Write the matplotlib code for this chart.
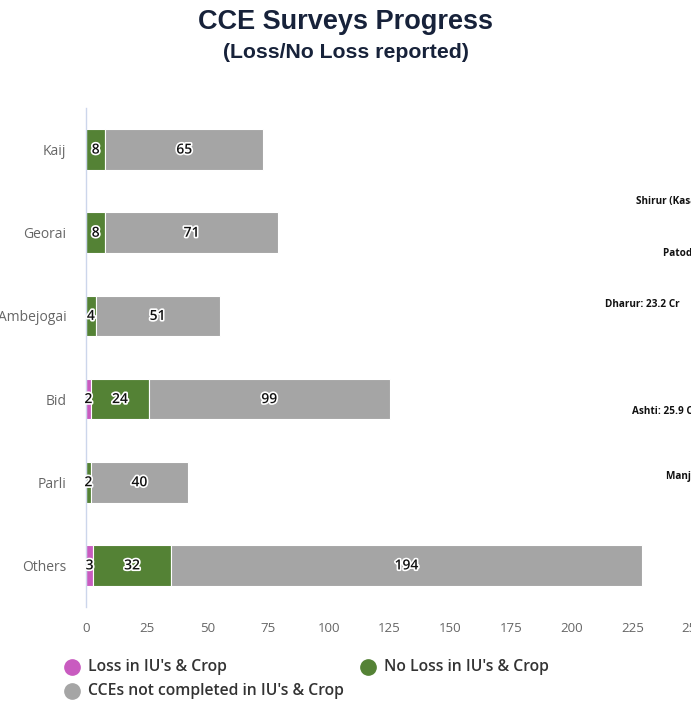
import matplotlib.pyplot as plt
import matplotlib.patheffects as pe
from matplotlib.lines import Line2D
import numpy as np

# data
blocks = ['Kaij', 'Georai', 'Ambejogai', 'Bid', 'Parli', 'Others']
loss = [0, 0, 0, 2, 0, 3]
no_loss = [8, 8, 4, 24, 2, 32]
not_done = [65, 71, 51, 99, 40, 194]

series_names = ["Loss in IU's & Crop", "No Loss in IU's & Crop", "CCEs not completed in IU's & Crop"]
colors = ['#c95bc0', '#548235', '#a5a5a5']

# labels from a neighbouring chart, cut off at the right edge
side_labels = ['Shirur (Kasar): 20.1 Cr', 'Patoda: 21.4 Cr', 'Dharur: 23.2 Cr', 'Ashti: 25.9 Cr', 'Manjlegaon: 22.3 Cr']

fig = plt.figure(figsize=(6.91, 7.04), dpi=100)
ax = fig.add_axes([86 / 691, 1 - 607 / 704, (693 - 86) / 691, (607 - 108) / 704])

y = np.arange(len(blocks))
left = np.zeros(len(blocks))
outline = [pe.withStroke(linewidth=2.4, foreground='white')]
for vals, name, col in zip([loss, no_loss, not_done], series_names, colors):
    vals = np.array(vals, dtype=float)
    ax.barh(y, vals, left=left, height=0.49, color=col, edgecolor='white', linewidth=0.8, label=name)
    for yi, l, v in zip(y, left, vals):
        if v > 0:
            ax.text(l + v / 2, yi, f'{int(v)}', ha='center', va='center', fontsize=10,
                    fontweight='semibold', color='#111111', family='Open Sans', path_effects=outline)
    left = left + vals

ax.set_xlim(0, 250)
ax.set_ylim(len(blocks) - 0.5, -0.5)
ax.set_yticks(y)
ax.set_yticklabels(blocks, fontsize=10, color='#666666', family='Open Sans')
ax.set_xticks(np.arange(0, 251, 25))
ax.set_xticklabels([str(t) for t in range(0, 251, 25)], fontsize=9.5, color='#666666', family='Open Sans')
ax.tick_params(axis='both', length=0)
ax.tick_params(axis='x', pad=11)
ax.tick_params(axis='y', pad=14)
for s in ['top', 'right', 'bottom']:
    ax.spines[s].set_visible(False)
ax.spines['left'].set_color('#ccd6eb')
ax.spines['left'].set_linewidth(1)

fig.text(0.5, 1 - 22 / 704, 'CCE Surveys Progress', ha='center', va='center',
         fontsize=19.5, fontweight='bold', color='#17223a', family='Liberation Sans')
fig.text(0.5, 1 - 53 / 704, '(Loss/No Loss reported)', ha='center', va='center',
         fontsize=15.3, fontweight='bold', color='#17223a', family='Liberation Sans')

# legend drawn by hand
leg_pos = [(72, 667), (368, 667), (72, 691)]
for (px, py), name, col in zip(leg_pos, series_names, colors):
    fig.add_artist(Line2D([px / 691], [1 - py / 704], marker='o', markersize=11,
                          color=col, linestyle='none', transform=fig.transFigure))
    fig.text((px + 16) / 691, 1 - py / 704, name, ha='left', va='center', fontsize=11.3,
             fontweight='semibold', color='#333333', family='Open Sans')

side_pos = [(636, 202), (663, 253), (605, 304), (632, 411), (666, 476)]
for (px, py), txt in zip(side_pos, side_labels):
    fig.text(px / 691, 1 - py / 704, txt, ha='left', va='center', fontsize=7.2,
             fontweight='bold', color='#111111', family='Open Sans')

fig.savefig('out.png', dpi=100)
